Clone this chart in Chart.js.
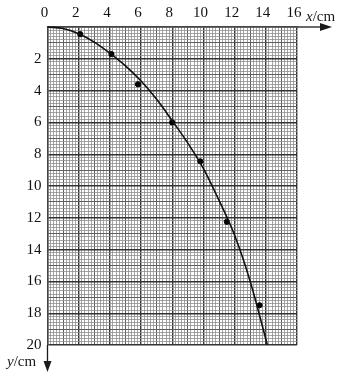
<!DOCTYPE html>
<html>
<head>
<meta charset="utf-8">
<script src="https://cdn.jsdelivr.net/npm/chart.js@4.4.1/dist/chart.umd.min.js"></script>
<style>
  html, body { margin: 0; padding: 0; background: #fff; }
  #wrap { width: 346px; height: 376px; }
</style>
</head>
<body>
<div id="wrap"><canvas id="myChart" width="346" height="376"></canvas></div>
<script>
// measured points
var pointX = [2.1, 4.1, 5.8, 8.0, 9.8, 11.5, 13.6];
var pointY = [0.45, 1.7, 3.6, 6.0, 8.45, 12.25, 17.5];

// hand drawn curve
var curveX = [0, 1, 2, 3, 4, 5, 6, 7, 8, 9, 10, 11, 12, 13, 14.1];
var curveY = [0, 0.1, 0.42, 0.95, 1.65, 2.45, 3.4, 4.55, 5.9, 7.3, 8.9, 10.9, 13.1, 16.0, 20];

var xMax = 16, yMax = 20;

function toXY(xs, ys) {
    var out = [];
    for (var i = 0; i < xs.length; i++) out.push({x: xs[i], y: ys[i]});
    return out;
}

// every 0.2 cm a fine line, every 1 cm a medium one, every 2 cm a heavy one
function gridColor(c) {
    var n = Math.round(c.tick.value * 5);
    if (n % 10 === 0) return '#333';
    if (n % 5 === 0) return '#5e5e5e';
    return '#8e8e8e';
}
function gridWidth(c) {
    var n = Math.round(c.tick.value * 5);
    if (n % 10 === 0) return 1.4;
    if (n % 5 === 0) return 1;
    return 0.8;
}

var serif = "'Liberation Serif', 'DejaVu Serif', serif";

// arrows and axis names
var axisDeco = {
    id: 'axisDeco',
    afterDraw: function (chart) {
        var ctx = chart.ctx, a = chart.chartArea;
        ctx.save();
        ctx.strokeStyle = '#1a1a1a';
        ctx.fillStyle = '#1a1a1a';
        ctx.lineWidth = 1.3;
        // x arrow
        ctx.beginPath();
        ctx.moveTo(a.right, a.top);
        ctx.lineTo(326, a.top);
        ctx.stroke();
        ctx.beginPath();
        ctx.moveTo(332, a.top);
        ctx.lineTo(320, a.top - 4);
        ctx.lineTo(320, a.top + 4);
        ctx.closePath();
        ctx.fill();
        // y arrow
        ctx.beginPath();
        ctx.moveTo(a.left, a.bottom);
        ctx.lineTo(a.left, 366);
        ctx.stroke();
        ctx.beginPath();
        ctx.moveTo(a.left, 372);
        ctx.lineTo(a.left - 4, 361);
        ctx.lineTo(a.left + 4, 361);
        ctx.closePath();
        ctx.fill();
        // names
        ctx.textBaseline = 'alphabetic';
        ctx.textAlign = 'left';
        ctx.font = 'italic 15px ' + serif;
        ctx.fillText('x', 306, 21);
        var w = ctx.measureText('x').width;
        ctx.font = '15px ' + serif;
        ctx.fillText('/cm', 306 + w, 21);
        ctx.font = 'italic 15px ' + serif;
        ctx.fillText('y', 7, 366);
        w = ctx.measureText('y').width;
        ctx.font = '15px ' + serif;
        ctx.fillText('/cm', 7 + w, 366);
        ctx.restore();
    }
};

var ctx = document.getElementById('myChart').getContext('2d');

var myChart = new Chart(ctx, {
    type: 'scatter',
    data: {
        datasets: [{
            label: 'curve',
            data: toXY(curveX, curveY),
            showLine: true,
            borderColor: '#111',
            borderWidth: 1.6,
            pointRadius: 0,
            tension: 0.4,
            cubicInterpolationMode: 'monotone',
            clip: false
        }, {
            label: 'points',
            data: toXY(pointX, pointY),
            backgroundColor: '#000',
            borderColor: '#000',
            pointRadius: 2.6
        }]
    },
    options: {
        responsive: false,
        animation: false,
        events: [],
        layout: { padding: { left: 0, top: 0, right: 49, bottom: 31 } },
        plugins: {
            legend: { display: false },
            tooltip: { enabled: false }
        },
        scales: {
            x: {
                type: 'linear',
                position: 'top',
                min: 0,
                max: xMax,
                afterFit: function (s) { s.height = 27; },
                ticks: {
                    stepSize: 0.2,
                    autoSkip: false,
                    maxRotation: 0,
                    padding: 5,
                    labelOffset: -3,
                    color: '#111',
                    font: { family: serif, size: 15 },
                    callback: function (v) {
                        var n = Math.round(v * 5);
                        return n % 10 === 0 ? String(n / 5) : '';
                    }
                },
                grid: { color: gridColor, lineWidth: gridWidth, drawTicks: false },
                border: { display: true, color: '#444', width: 1.4 }
            },
            y: {
                type: 'linear',
                position: 'left',
                reverse: true,
                min: 0,
                max: yMax,
                afterFit: function (s) { s.width = 47.5; },
                ticks: {
                    stepSize: 0.2,
                    autoSkip: false,
                    padding: 6,
                    color: '#111',
                    font: { family: serif, size: 15 },
                    callback: function (v) {
                        var n = Math.round(v * 5);
                        return (n % 10 === 0 && n !== 0) ? String(n / 5) : '';
                    }
                },
                grid: { color: gridColor, lineWidth: gridWidth, drawTicks: false },
                border: { display: true, color: '#444', width: 1.4 }
            }
        }
    },
    plugins: [axisDeco]
});
</script>
</body>
</html>
